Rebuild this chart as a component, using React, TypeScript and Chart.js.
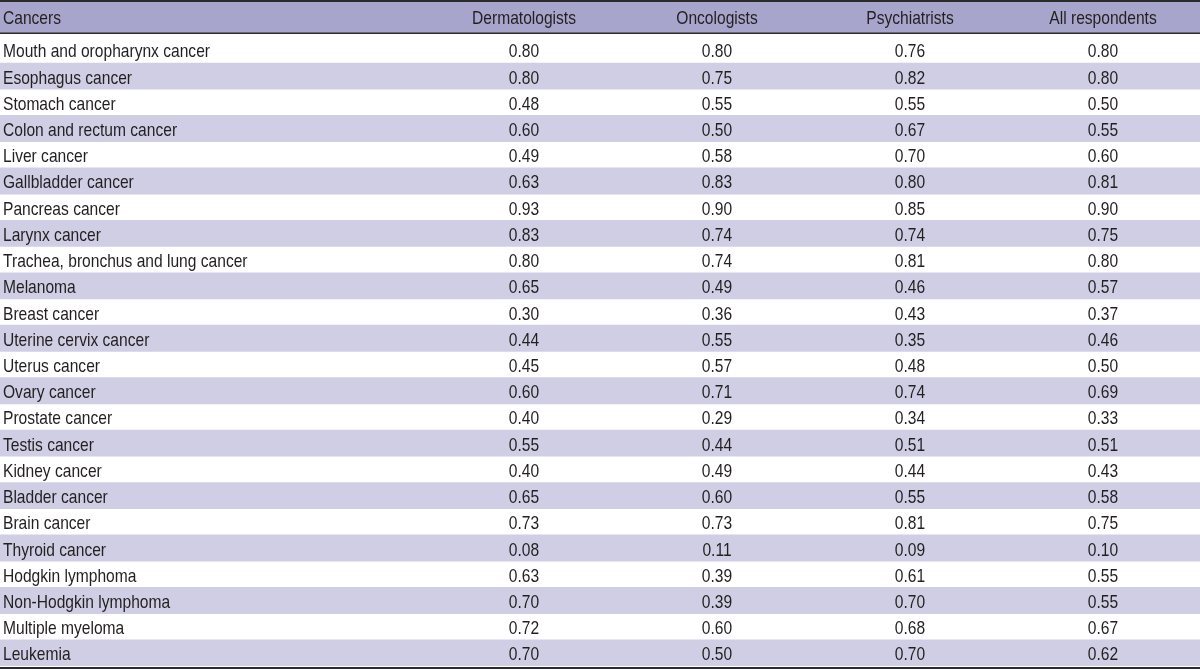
import React, { useEffect, useRef } from "react";
import { Chart, registerables } from "chart.js";

Chart.register(...registerables);

// ---- Data ----
const columnHeaders = ["Cancers", "Dermatologists", "Oncologists", "Psychiatrists", "All respondents"];

const cancers = [
  "Mouth and oropharynx cancer",
  "Esophagus cancer",
  "Stomach cancer",
  "Colon and rectum cancer",
  "Liver cancer",
  "Gallbladder cancer",
  "Pancreas cancer",
  "Larynx cancer",
  "Trachea, bronchus and lung cancer",
  "Melanoma",
  "Breast cancer",
  "Uterine cervix cancer",
  "Uterus cancer",
  "Ovary cancer",
  "Prostate cancer",
  "Testis cancer",
  "Kidney cancer",
  "Bladder cancer",
  "Brain cancer",
  "Thyroid cancer",
  "Hodgkin lymphoma",
  "Non-Hodgkin lymphoma",
  "Multiple myeloma",
  "Leukemia",
];

const dermatologists = [0.8, 0.8, 0.48, 0.6, 0.49, 0.63, 0.93, 0.83, 0.8, 0.65, 0.3, 0.44, 0.45, 0.6, 0.4, 0.55, 0.4, 0.65, 0.73, 0.08, 0.63, 0.7, 0.72, 0.7];
const oncologists = [0.8, 0.75, 0.55, 0.5, 0.58, 0.83, 0.9, 0.74, 0.74, 0.49, 0.36, 0.55, 0.57, 0.71, 0.29, 0.44, 0.49, 0.6, 0.73, 0.11, 0.39, 0.39, 0.6, 0.5];
const psychiatrists = [0.76, 0.82, 0.55, 0.67, 0.7, 0.8, 0.85, 0.74, 0.81, 0.46, 0.43, 0.35, 0.48, 0.74, 0.34, 0.51, 0.44, 0.55, 0.81, 0.09, 0.61, 0.7, 0.68, 0.7];
const allRespondents = [0.8, 0.8, 0.5, 0.55, 0.6, 0.81, 0.9, 0.75, 0.8, 0.57, 0.37, 0.46, 0.5, 0.69, 0.33, 0.51, 0.43, 0.58, 0.75, 0.1, 0.55, 0.55, 0.67, 0.62];

const valueColumns = [dermatologists, oncologists, psychiatrists, allRespondents];

// ---- Layout / style (table units on the x scale) ----
const TABLE_WIDTH = 1200;
const COLUMN_X = [3, 524, 717, 910, 1103];
const FONT = "19px 'Liberation Sans', Arial, sans-serif";
const CONDENSE = 0.82;
const TEXT_COLOR = "#231f20";
const HEADER_BG = "#a7a5cb";
const STRIPE_BG = "#d0cee4";
const RULE_COLOR = "#2b2b2b";

function drawText(ctx: CanvasRenderingContext2D, text: string, x: number, y: number, align: "left" | "center") {
  ctx.save();
  ctx.translate(x, y);
  ctx.scale(CONDENSE, 1);
  ctx.textAlign = align;
  ctx.fillText(text, 0, 0);
  ctx.restore();
}

const tablePlugin = {
  id: "tablePlugin",
  beforeDraw(chart: any) {
    const { ctx, width, height } = chart;
    ctx.save();
    ctx.fillStyle = "#ffffff";
    ctx.fillRect(0, 0, width, height);
    // header band
    ctx.fillStyle = HEADER_BG;
    ctx.fillRect(0, 2, width, 31);
    // rules
    ctx.fillStyle = RULE_COLOR;
    ctx.fillRect(0, 0, width, 2);
    ctx.fillRect(0, 32.5, width, 1.5);
    ctx.fillRect(0, 667, width, 2);
    ctx.restore();
  },
  afterDatasetsDraw(chart: any) {
    const { ctx } = chart;
    const xs = chart.scales.x;
    const ys = chart.scales.y;
    ctx.save();
    ctx.font = FONT;
    ctx.fillStyle = TEXT_COLOR;
    ctx.textBaseline = "alphabetic";
    columnHeaders.forEach((h, c) => {
      drawText(ctx, h, xs.getPixelForValue(COLUMN_X[c]), 24, c === 0 ? "left" : "center");
    });
    cancers.forEach((name, r) => {
      const y = ys.getPixelForValue(r) + 7.5;
      drawText(ctx, name, xs.getPixelForValue(COLUMN_X[0]), y, "left");
      valueColumns.forEach((col, c) => {
        drawText(ctx, col[r].toFixed(2), xs.getPixelForValue(COLUMN_X[c + 1]), y, "center");
      });
    });
    ctx.restore();
  },
};

export default function App() {
  const canvasRef = useRef<HTMLCanvasElement | null>(null);

  useEffect(() => {
    if (!canvasRef.current) return;
    const chart = new Chart(canvasRef.current, {
      type: "bar",
      data: {
        labels: cancers,
        datasets: [
          {
            label: "stripes",
            data: cancers.map((_, i) => (i % 2 === 1 ? [0, TABLE_WIDTH] : null)) as any,
            backgroundColor: STRIPE_BG,
            borderWidth: 0,
            barPercentage: 1,
            categoryPercentage: 1,
          },
        ],
      },
      options: {
        indexAxis: "y",
        animation: false,
        responsive: false,
        devicePixelRatio: 1,
        layout: { padding: { top: 36.8, bottom: 4, left: 0, right: 0 } },
        plugins: { legend: { display: false }, tooltip: { enabled: false } },
        scales: {
          x: { type: "linear", min: 0, max: TABLE_WIDTH, display: false },
          y: { type: "category", display: false, offset: true },
        },
      },
      plugins: [tablePlugin],
    });
    return () => chart.destroy();
  }, []);

  return (
    <div style={{ position: "absolute", left: 0, top: 0, width: 1200, height: 670, background: "#fff" }}>
      <canvas ref={canvasRef} width={1200} height={670} style={{ display: "block" }} />
    </div>
  );
}
